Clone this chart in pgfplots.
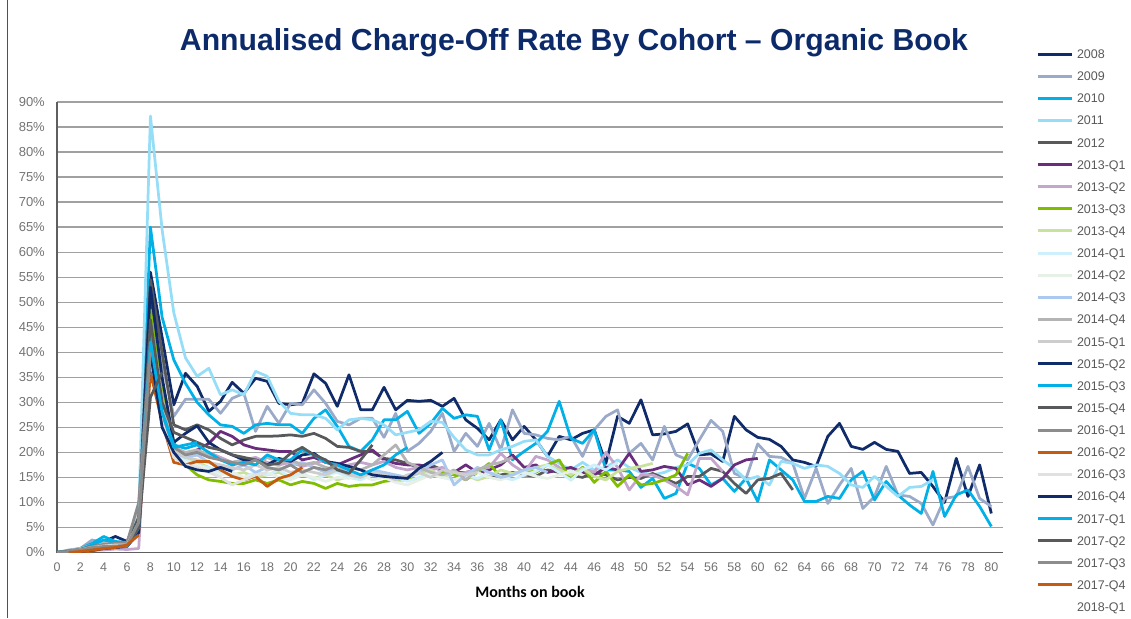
\documentclass[border=0pt]{standalone}
\usepackage{pgfplots}
\pgfplotsset{compat=1.18}
\usepackage{fontspec}
\usepackage{graphicx}
\setmainfont{Liberation Sans}
\newfontfamily\calibri{Carlito}
\definecolor{c08}{RGB}{16,43,106}
\definecolor{c09}{RGB}{155,170,200}
\definecolor{c10}{RGB}{0,176,230}
\definecolor{c11}{RGB}{150,222,248}
\definecolor{c12}{RGB}{88,89,91}
\definecolor{q131}{RGB}{106,45,124}
\definecolor{q132}{RGB}{196,166,205}
\definecolor{q133}{RGB}{128,188,0}
\definecolor{q134}{RGB}{200,225,155}
\definecolor{q141}{RGB}{205,240,252}
\definecolor{q142}{RGB}{230,240,230}
\definecolor{q143}{RGB}{170,200,240}
\definecolor{q144}{RGB}{180,180,180}
\definecolor{q151}{RGB}{205,205,205}
\definecolor{q161}{RGB}{140,140,140}
\definecolor{corg}{RGB}{197,90,17}
\definecolor{q163}{RGB}{225,225,225}
\definecolor{titleblue}{RGB}{12,42,106}
\definecolor{tickgray}{RGB}{115,115,115}
\definecolor{leggray}{RGB}{89,89,89}
\definecolor{gridgray}{RGB}{160,160,160}
\definecolor{axisgray}{RGB}{95,95,95}
\definecolor{border}{RGB}{47,85,151}
\newcommand\ser[4]{\addplot[draw=#1] table[row sep=\\, header=false, x expr=\coordindex+#2, y index=0] {#3}; \addlegendentry{#4}}
\begin{document}
\begin{tikzpicture}[x=1pt,y=1pt]
\useasboundingbox (0,0) rectangle (1131,618);
\draw[border, line width=1pt] (7.5,0) -- (7.5,618);
\node[text=titleblue, anchor=base, inner sep=0pt] at (574,567) {\resizebox{788pt}{22pt}{\bfseries Annualised Charge-Off Rate By Cohort – Organic Book}};
\begin{axis}[
  at={(57pt,65.5pt)}, anchor=south west, scale only axis,
  width=946pt, height=450.5pt,
  xmin=0, xmax=81, ymin=0, ymax=90,
  axis x line*=bottom, axis y line*=left,
  axis line style={draw=axisgray, line width=1.6pt},
  ymajorgrids, major grid style={draw=gridgray, line width=1.3pt},
  tick style={draw=none}, major tick length=0pt,
  xtick={0,2,...,80}, ytick={0,5,...,90},
  /pgf/number format/assume math mode=true,
  yticklabel={\pgfmathprintnumber{\tick}\%},
  y tick label style={font=\fontsize{13}{13}\selectfont, text=tickgray, anchor=east, inner sep=0pt, xshift=-12pt},
  x tick label style={font=\fontsize{12.5}{12.5}\selectfont, text=tickgray, anchor=north, inner sep=0pt, yshift=-10pt},
  xlabel={\calibri\bfseries Months on book},
  xlabel style={font=\fontsize{16}{16}\selectfont, at={(axis description cs:0.5,0)}, anchor=base, inner sep=0pt, yshift=-45pt},
  every axis plot/.append style={line width=2.75pt, line join=round, no markers},
  legend image code/.code={\draw[line width=3pt, #1] (0pt,0pt) -- (34pt,0pt);},
  legend cell align=left,
  legend style={at={(axis description cs:1.0349,1.1165)}, anchor=north west, draw=none, fill=none, inner sep=0pt, outer sep=0pt,
    font=\fontsize{12.5}{12.5}\selectfont, text=leggray, row sep=13.12pt,
    nodes={inner sep=0pt, text height=9pt, text depth=0pt},
    /tikz/every odd column/.append style={column sep=4pt}},
]
\ser{c08}{0}{0\\0.3\\0.6\\1.5\\2.2\\3.2\\2.2\\7\\56\\43\\29.5\\35.8\\33.2\\28.2\\30.2\\34\\31.8\\34.8\\34.2\\29.8\\29.5\\29.8\\35.7\\33.8\\29.2\\35.5\\28.5\\28.5\\33\\28.5\\30.4\\30.2\\30.4\\29.2\\30.8\\26.5\\24.8\\22.5\\26.5\\22.5\\25.2\\22.5\\19.2\\23.2\\22.5\\23.8\\24.5\\17.8\\27.2\\25.8\\30.5\\23.5\\23.7\\24.2\\25.7\\19.5\\19.7\\18.2\\27.2\\24.5\\23\\22.6\\21.2\\18.5\\18\\17.2\\23.2\\25.8\\21.2\\20.6\\22\\20.6\\20.2\\15.8\\16\\13.2\\10\\18.8\\11.2\\17.5\\7.8\\}{2008}
\ser{c09}{0}{0\\0.5\\0.8\\2.5\\2\\2\\1.8\\9\\52\\38\\27.2\\30.6\\30.6\\30.6\\27.8\\30.8\\31.8\\24.2\\29.2\\25.8\\29.8\\29.5\\32.5\\29.8\\26.2\\25.5\\26.8\\26.8\\23\\27.8\\20.2\\21.8\\24.2\\27.8\\20.2\\23.8\\21.2\\25.8\\20.5\\28.5\\23.8\\23.5\\22.8\\22.5\\23.2\\19.2\\24.5\\27.2\\28.5\\19.8\\21.8\\18.5\\25.2\\19.5\\18.5\\22.5\\26.4\\24.2\\15.8\\14.8\\21.7\\19.2\\19\\17.8\\10.8\\16.8\\9.8\\13.5\\16.8\\8.8\\11.2\\17.2\\11.5\\11.2\\9.8\\5.5\\10.8\\11.2\\17.2\\10.8\\9.2\\}{2009}
\ser{c10}{0}{0\\0.3\\0.8\\1.8\\3.2\\2.2\\2\\6\\65\\47\\38.5\\33.8\\30\\27.5\\25.5\\25.2\\23.8\\25.5\\25.8\\25.5\\25.5\\23.8\\26.8\\28.5\\25.2\\21.2\\20.2\\22.5\\26.5\\26.5\\28.2\\23.8\\25.8\\28.8\\26.8\\27.5\\27.2\\20.5\\26.5\\18.5\\20.2\\21.8\\24.2\\30.2\\22.8\\21.8\\24.5\\16.5\\16.5\\16.2\\13\\14.8\\10.8\\11.8\\17.8\\16.8\\13.5\\14.8\\12.2\\14.8\\10.2\\18.5\\16.5\\14.5\\10.2\\10.2\\11.2\\10.8\\14.5\\16.2\\10.5\\14.2\\11.5\\9.5\\7.8\\16.2\\7.2\\11.5\\12.5\\9.2\\5.2\\}{2010}
\ser{c11}{0}{0\\0.2\\0.5\\1.2\\2\\1.5\\1.8\\8\\87.2\\64.5\\47.9\\38.9\\35.2\\36.8\\31.5\\32.5\\31.5\\36.2\\35.2\\30.2\\27.8\\27.5\\27.5\\26.8\\24.5\\26.5\\26.8\\26.5\\25.5\\23.5\\24\\24.5\\26.2\\26\\23\\20.5\\19.5\\19.5\\20.5\\21.2\\22.2\\22.5\\19.2\\17.8\\16.5\\18\\16.5\\17\\18.5\\17\\16\\15.5\\16\\17\\17.5\\19.8\\20.5\\18.5\\16.8\\14.5\\15.2\\13.5\\18.2\\17.8\\16.8\\17.5\\17.2\\15.8\\13.5\\13\\15.2\\13.2\\11.2\\13\\13.2\\14.5\\}{2011}
\ser{c12}{0}{0\\0.3\\0.5\\1\\1.5\\1.8\\1.5\\7\\54.5\\40\\25.5\\24.5\\25.5\\24.5\\22.8\\21.5\\22.5\\23.2\\23.2\\23.3\\23.5\\23.2\\23.8\\22.8\\21.2\\21\\20.2\\20.2\\18.8\\18.5\\17.8\\17\\17.5\\16.5\\16\\16\\16.5\\15\\15.5\\16\\15.5\\15.2\\16.5\\16\\15.5\\15\\16\\15.5\\14.5\\15\\14.8\\15.8\\14.8\\13.8\\15.2\\15.2\\16.8\\16.2\\13.8\\11.8\\14.5\\14.8\\15.8\\12.5\\}{2012}
\ser{q131}{0}{0\\0.2\\0.6\\1.2\\1.5\\1.5\\1.5\\5\\50\\32\\21\\18.8\\20.5\\21.8\\24.2\\23.2\\21.5\\20.8\\20.5\\20.2\\20.2\\18.5\\19\\18\\17.5\\18.5\\19.5\\20.5\\18.5\\17.8\\17.5\\17.5\\17\\16.5\\16\\17.5\\16\\16.5\\17.5\\19.5\\17\\17.5\\16\\16.5\\17\\16\\15.5\\17\\16.5\\19.8\\16.2\\16.5\\17.2\\16.8\\13.5\\14.5\\13.2\\14.8\\17.5\\18.5\\18.8\\}{2013-Q1}
\ser{q132}{0}{0\\0.1\\0.3\\0.5\\0.5\\0.7\\0.6\\0.8\\45\\30\\21\\19\\19.5\\20\\19\\18\\18.5\\19\\18\\17.5\\18\\17.2\\17.8\\18.5\\17\\17.5\\18\\17.5\\18.2\\17\\16.5\\17\\16.5\\17\\15.5\\16\\16.5\\17\\19.8\\17.5\\16\\19.2\\18.5\\17\\15.5\\17\\16\\20\\17\\12.5\\15.5\\15.5\\14.5\\13.2\\11.5\\18.8\\18.8\\16.2\\}{2013-Q2}
\ser{q133}{0}{0\\0.2\\0.4\\0.8\\1.2\\1.5\\1.5\\5\\48.5\\33\\22\\17.5\\15.5\\14.5\\14.2\\13.8\\13.8\\14.5\\13.8\\14.5\\13.5\\14.2\\13.8\\12.8\\13.8\\13.2\\13.5\\13.5\\14.2\\14.5\\14.5\\14.8\\15.5\\16\\15.5\\14.5\\16\\17.8\\15\\15.5\\16.5\\16\\17.5\\18.5\\14.5\\17\\14\\16.2\\13.2\\15.5\\13.5\\13.8\\14.5\\15.5\\19.8\\}{2013-Q3}
\ser{q134}{0}{0\\0.3\\0.5\\1\\1.3\\1.5\\1.6\\6\\44\\30\\20\\19\\18\\17\\16\\15.5\\16\\15\\15.5\\16\\15\\15.5\\14.8\\15.5\\14.5\\15.2\\15\\16\\15.5\\14.5\\15\\15.8\\16.5\\15\\16\\15.5\\14.5\\15.2\\16.5\\15.8\\16.2\\17\\17.5\\16.5\\15.5\\16.8\\15.2\\14.5\\16.2\\16.8\\17.2\\17.8\\}{2013-Q4}
\ser{q141}{0}{0\\0.2\\0.5\\1\\1.2\\1.5\\1.6\\7\\42\\28\\20\\18.5\\17.5\\17\\16\\15.5\\15\\16\\15.5\\16.5\\15\\16\\14.5\\15.5\\16\\15\\14.5\\15.5\\16\\15\\14.2\\15\\16\\15\\14.5\\15.5\\14.8\\16\\15.2\\14.5\\15.5\\16.2\\17.5\\16\\14.5\\16.5\\17.5\\16.5\\18\\}{2014-Q1}
\ser{q142}{0}{0\\0.2\\0.4\\0.9\\1.1\\1.4\\1.5\\6\\40\\27\\19.5\\18\\17.5\\16.5\\15.5\\16\\15\\15.5\\16\\15\\14.5\\15.5\\15\\14.2\\15\\14.8\\15.5\\14.5\\15\\14\\13.5\\14.5\\15.5\\15\\14.5\\15.2\\16\\15\\14.5\\15.5\\16\\15.2\\14.8\\15.5\\16.2\\15.5\\}{2014-Q2}
\ser{q143}{0}{0\\0.3\\0.6\\1.2\\1.5\\1.5\\1.8\\8\\38\\26\\20\\19\\19.5\\18\\17\\16.5\\17.5\\16\\17\\16.5\\17.5\\18\\17\\16\\17\\16\\15.5\\16.5\\16\\15.5\\15\\16\\17.5\\18.5\\13.5\\15.5\\17\\16\\15\\15.5\\16.5\\17\\16\\}{2014-Q3}
\ser{q144}{0}{0\\0.4\\0.8\\1.5\\1.8\\2\\2\\9\\46\\31\\21\\20\\20.5\\19.5\\18.5\\18\\18.5\\17.5\\19\\18\\18.5\\17.5\\18\\17\\16.5\\17\\16.5\\17.5\\19.5\\21.5\\18\\17\\16\\15.5\\16.5\\14.5\\16.5\\17.5\\18\\19\\}{2014-Q4}
\ser{q151}{0}{0\\0.3\\0.7\\1.3\\1.6\\1.8\\1.8\\8\\41\\28\\20.5\\19\\18.5\\18\\17.5\\17\\16.5\\17.5\\16.5\\17\\16\\16.5\\16\\15.5\\16.5\\15.5\\15\\16\\15.5\\14.5\\15.5\\16\\15\\16.5\\16\\15.5\\16\\}{2015-Q1}
\ser{c08}{0}{0\\0.2\\0.5\\1\\1.5\\1.8\\1.8\\6\\53\\35\\22\\23.8\\25.3\\22\\20.5\\19.5\\18.5\\18.5\\17.5\\18.8\\18.2\\19.5\\19.8\\18.2\\17.8\\17.2\\16.5\\15.5\\15.2\\15\\14.8\\16.8\\18.2\\20\\}{2015-Q2}
\ser{c10}{0}{0\\0.3\\0.6\\1.5\\2.5\\2\\2\\7\\44\\28\\21.5\\20.8\\21.5\\20\\18.5\\17.5\\18\\17.5\\19.5\\18.5\\18.5\\20.5\\19.5\\18\\17.5\\16.5\\15.5\\16.5\\17.5\\19.5\\21\\}{2015-Q3}
\ser{c12}{0}{0\\0.3\\0.6\\1.2\\1.5\\1.6\\1.6\\7\\46.5\\30\\24\\23\\22\\21\\20.5\\19.5\\19\\18.5\\17.5\\17.8\\19.8\\21\\19.5\\18.5\\16.5\\15.8\\18.5\\21.5\\}{2015-Q4}
\ser{q161}{0}{0\\0.3\\0.6\\1.2\\1.6\\1.8\\2\\10\\42\\27\\21\\19.5\\20\\19\\18.5\\18\\17.5\\18.5\\17\\16.5\\17.5\\16\\17\\16.5\\17.5\\}{2016-Q1}
\ser{corg}{1}{0\\0\\0.3\\0.8\\1\\1.5\\4\\36\\26\\18\\17.5\\18.2\\18.2\\16.5\\15.2\\14.5\\15.2\\13.2\\14.8\\15.5\\17\\}{2016-Q2}
\ser{q163}{0}{0\\0.2\\0.5\\1\\1.3\\1.5\\1.5\\6\\40\\26\\19\\17.5\\17\\16\\15\\13.5\\14.5\\15.5\\16\\}{2016-Q3}
\ser{c08}{0}{0\\0.1\\0.2\\0.5\\0.8\\1\\1.2\\4\\40\\25\\20\\17.2\\16.5\\16.2\\17\\16.2\\}{2016-Q4}
\ser{c10}{0}{0\\0.2\\0.4\\0.8\\1\\1.2\\1.2\\5\\42\\28\\21\\21.5\\22\\}{2017-Q1}
\ser{c12}{0}{0\\0.2\\0.4\\0.8\\1\\1.2\\1.3\\5\\31\\36\\}{2017-Q2}
\ser{q161}{0}{0\\0.2\\0.5\\1\\1.2\\1.3\\1.4\\6\\40\\}{2017-Q3}
\ser{corg}{1}{0\\0.2\\0.5\\0.8\\1\\1.5\\3.5\\}{2017-Q4}
\addlegendimage{draw opacity=0, draw=white}
\addlegendentry{2018-Q1}
\end{axis}
\end{tikzpicture}
\end{document}
